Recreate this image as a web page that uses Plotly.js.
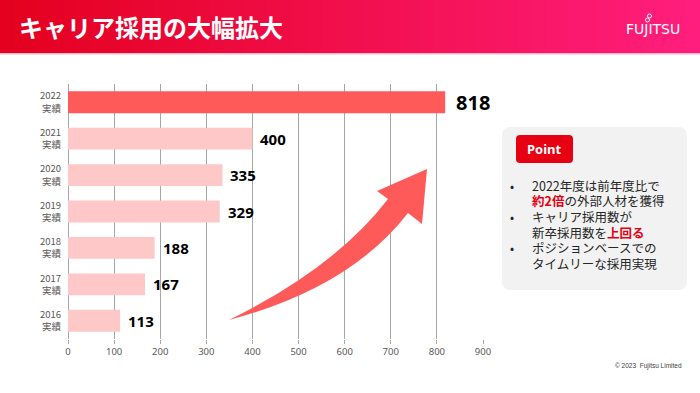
<!DOCTYPE html>
<html>
<head>
<meta charset="utf-8">
<script src="https://cdn.plot.ly/plotly-3.0.1.min.js"></script>
<style>html,body{margin:0;padding:0;background:#fff;}#chart{width:700px;height:393px;}</style>
</head>
<body>
<div id="chart"></div>
<script>
// ---- data ----
const years = ['2016', '2017', '2018', '2019', '2020', '2021', '2022'];
const yearSuffix = '実績';
const hires = [113, 167, 188, 329, 335, 400, 818];
const xTicks = [0, 100, 200, 300, 400, 500, 600, 700, 800, 900];
const titleText = 'キャリア採用の大幅拡大';
const pointLabel = 'Point';
const bulletItems = [
  ['2022年度は前年度比で', '<b><span style="color:#E60012">約2倍</span></b>の外部人材を獲得'],
  ['キャリア採用数が', '新卒採用数を<b><span style="color:#E60012">上回る</span></b>'],
  ['ポジションベースでの', 'タイムリーな採用実現']
];
const copyrightText = '© 2023  Fujitsu Limited';

// ---- layout helpers (page pixels -> paper fractions) ----
const W = 700, H = 393;
const M = {l: 68, r: 217, t: 84, b: 54};
const PW = W - M.l - M.r, PH = H - M.t - M.b;
const px = x => (x - M.l) / PW;
const py = y => (H - M.b - y) / PH;

const jp = '"Noto Sans CJK JP", "Noto Sans", sans-serif';
const lat = '"Noto Sans", "Open Sans", sans-serif';

const latest = years.length - 1;
const pos = years.map((_, i) => i);
const barColors = pos.map(i => i === latest ? '#FF5A5A' : '#FFC8C8');

const trace = {
  type: 'bar',
  orientation: 'h',
  y: pos,
  x: hires,
  marker: {color: barColors},
  hoverinfo: 'skip'
};

const shapes = [];
// header gradient
const N = 100;
const c0 = [228, 0, 30], c1 = [255, 30, 125];
for (let i = 0; i < N; i++) {
  const t = i / (N - 1);
  const c = c0.map((v, k) => Math.round(v + (c1[k] - v) * t));
  shapes.push({type: 'rect', xref: 'paper', yref: 'paper', layer: 'above',
    x0: px(i * W / N), x1: px((i + 1) * W / N + 0.5), y0: py(53), y1: py(0),
    fillcolor: `rgb(${c[0]},${c[1]},${c[2]})`, line: {width: 0}});
}
shapes.push({type: 'rect', xref: 'paper', yref: 'paper', layer: 'above',
  x0: px(0), x1: px(W), y0: py(54.5), y1: py(53), fillcolor: '#FFB8CC', line: {width: 0}});

// rounded rect helper
function rrect(x0, y0, x1, y1, r) {
  const X = px, Y = py;
  return `M${X(x0 + r)},${Y(y0)} L${X(x1 - r)},${Y(y0)} Q${X(x1)},${Y(y0)} ${X(x1)},${Y(y0 + r)} ` +
    `L${X(x1)},${Y(y1 - r)} Q${X(x1)},${Y(y1)} ${X(x1 - r)},${Y(y1)} L${X(x0 + r)},${Y(y1)} ` +
    `Q${X(x0)},${Y(y1)} ${X(x0)},${Y(y1 - r)} L${X(x0)},${Y(y0 + r)} Q${X(x0)},${Y(y0)} ${X(x0 + r)},${Y(y0)} Z`;
}
shapes.push({type: 'path', xref: 'paper', yref: 'paper', path: rrect(502, 127, 687, 290, 9),
  fillcolor: '#F2F2F2', line: {width: 0}});
shapes.push({type: 'path', xref: 'paper', yref: 'paper', path: rrect(516, 135, 573, 163, 4),
  fillcolor: '#E60012', line: {width: 0}});

// growth arrow
const P = (x, y) => `${px(x)},${py(y)}`;
shapes.push({type: 'path', xref: 'paper', yref: 'paper', layer: 'above',
  path: `M${P(229, 320)} Q${P(335, 268)} ${P(388, 199)} L${P(377, 191)} L${P(427, 169)} L${P(422, 224)} L${P(408, 213)} Q${P(350, 288)} ${P(229, 320)} Z`,
  fillcolor: '#FF5A5A', line: {width: 0}});

// logo infinity mark
shapes.push({type: 'circle', xref: 'paper', yref: 'paper', layer: 'above',
  x0: px(645.5), x1: px(649.5), y0: py(22), y1: py(18), line: {color: '#fff', width: 1}});
shapes.push({type: 'circle', xref: 'paper', yref: 'paper', layer: 'above',
  x0: px(647.5), x1: px(651.5), y0: py(18), y1: py(14), line: {color: '#fff', width: 1}});

const annotations = [];
// value labels
pos.forEach(i => {
  const big = i === latest;
  annotations.push({x: hires[i], y: i, xref: 'x', yref: 'y', text: '<b>' + hires[i] + '</b>',
    showarrow: false, xanchor: 'left', yanchor: 'middle', xshift: big ? 9 : 6,
    font: {family: lat, size: big ? 20 : 15, color: '#000'}});
});
// title
annotations.push({xref: 'paper', yref: 'paper', x: px(17), y: py(27), xanchor: 'left', yanchor: 'middle',
  text: '<b>' + titleText + '</b>', showarrow: false, font: {family: jp, size: 24, color: '#fff'}});
// logo
annotations.push({xref: 'paper', yref: 'paper', x: px(653), y: py(29), xanchor: 'center', yanchor: 'middle',
  text: 'FUJITSU', showarrow: false, font: {family: '"DejaVu Sans", sans-serif', size: 14, color: '#fff'}});
// point label
annotations.push({xref: 'paper', yref: 'paper', x: px(544.5), y: py(149), xanchor: 'center', yanchor: 'middle',
  text: '<b>' + pointLabel + '</b>', showarrow: false, font: {family: lat, size: 13, color: '#fff'}});
// bullets: one annotation per line
const itemTop = [185, 216.5, 248];
const lineStep = 15.7;
bulletItems.forEach((lines, i) => {
  annotations.push({xref: 'paper', yref: 'paper', x: px(509), y: py(itemTop[i]), xanchor: 'left', yanchor: 'middle',
    text: '•', showarrow: false, borderpad: 0, font: {family: jp, size: 12, color: '#262626'}});
  lines.forEach((ln, j) => {
    annotations.push({xref: 'paper', yref: 'paper', x: px(531), y: py(itemTop[i] + j * lineStep), xanchor: 'left', yanchor: 'middle',
      align: 'left', text: ln, showarrow: false, borderpad: 0, font: {family: jp, size: 12.5, color: '#262626'}});
  });
});
// copyright
annotations.push({xref: 'paper', yref: 'paper', x: px(684), y: py(366), xanchor: 'right', yanchor: 'middle',
  text: copyrightText, showarrow: false, font: {family: '"Liberation Sans", sans-serif', size: 6.5, color: '#404040'}});

const layout = {
  width: W, height: H,
  margin: M,
  paper_bgcolor: '#fff', plot_bgcolor: '#fff',
  showlegend: false,
  bargap: 0.4,
  xaxis: {
    range: [0, 900], tickvals: xTicks, ticktext: xTicks.map(String),
    showgrid: true, gridcolor: '#A6A6A6', gridwidth: 1,
    zeroline: true, zerolinecolor: '#A6A6A6', zerolinewidth: 1,
    showline: false, ticks: 'outside', ticklen: 4, tickcolor: '#A6A6A6',
    tickfont: {family: lat, size: 9.5, color: '#595959'}, fixedrange: true
  },
  yaxis: {
    type: 'linear', range: [-0.5, years.length - 0.5],
    tickvals: pos, ticktext: years.map(y => y + '<br>' + yearSuffix),
    showgrid: false, zeroline: false, showline: false, ticks: '', ticklabelstandoff: 6,
    tickfont: {family: jp, size: 9.5, color: '#595959'}, fixedrange: true
  },
  shapes: shapes,
  annotations: annotations
};

Plotly.newPlot('chart', [trace], layout, {displayModeBar: false, staticPlot: true});
</script>
</body>
</html>
